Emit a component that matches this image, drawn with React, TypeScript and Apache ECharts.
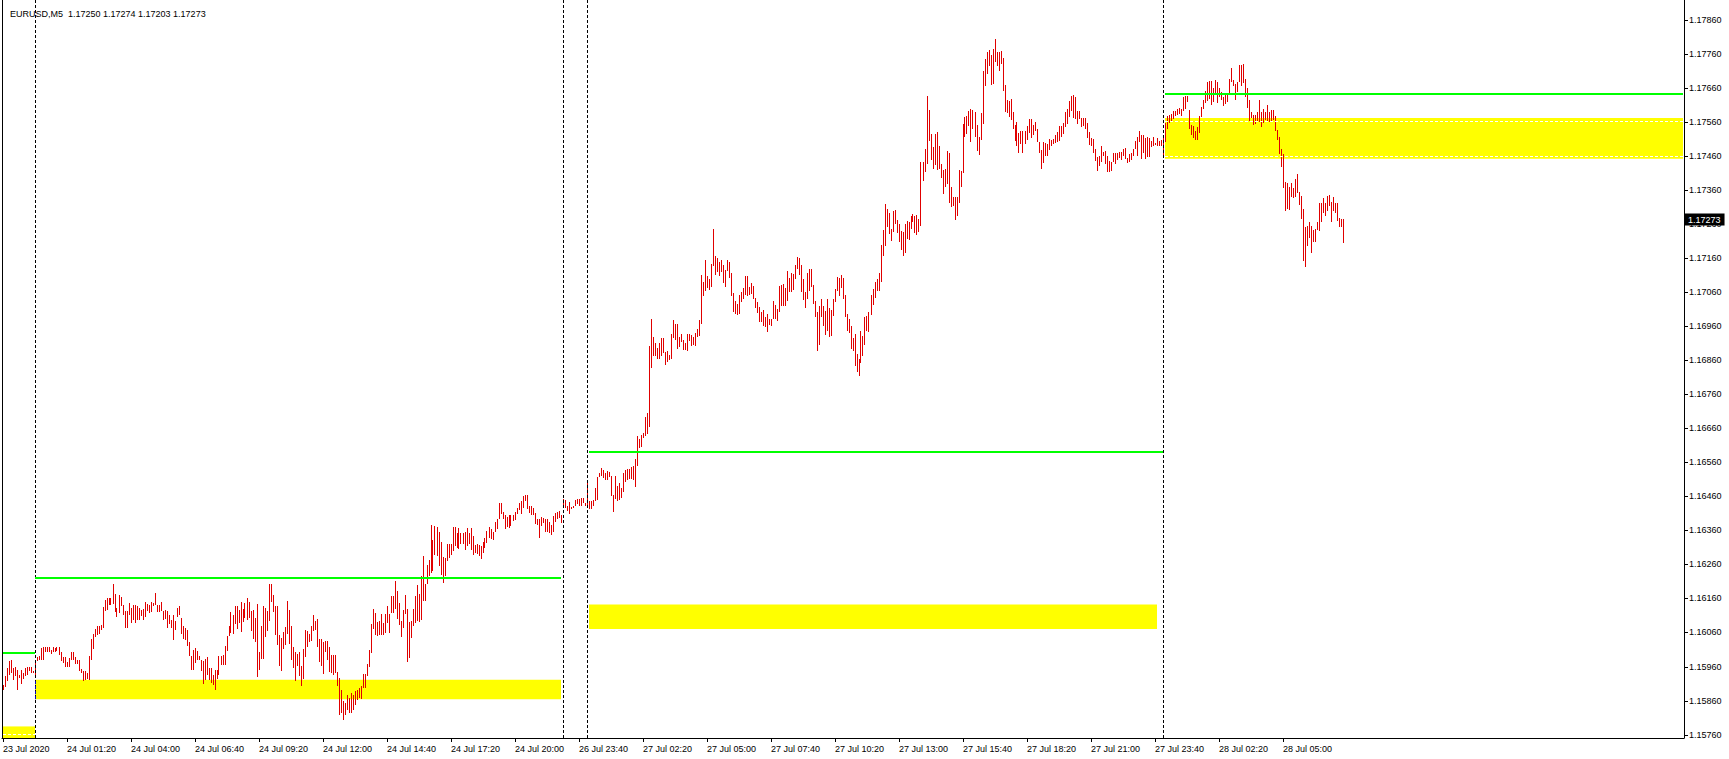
import React, { useEffect, useRef } from "react";
import * as echarts from "echarts";

// ---- header ----
const symbolName = "EURUSD,M5";
const lastBar = [1.1725, 1.17274, 1.17203, 1.17273]; // O H L C

// ---- price axis labels ----
const priceTicks = [
  1.1576, 1.1586, 1.1596, 1.1606, 1.1616, 1.1626, 1.1636, 1.1646, 1.1656, 1.1666, 1.1676,
  1.1686, 1.1696, 1.1706, 1.1716, 1.1726, 1.1736, 1.1746, 1.1756, 1.1766, 1.1776, 1.1786,
];
const firstLabel = "23 Jul 2020";

// ---- M5 bars: highs / lows in points (1e-5) ----
const hi23 = [115906,115933,115955,115977,115980,115955,115958,115951,115936,115951,115941,115957,115958,115960,115960,115948];
const lo23 = [115892,115899,115916,115936,115941,115919,115931,115892,115926,115909,115923,115931,115936,115946,115941,115941];

const hi24 = [
115977,115988,115990,116014,116017,116017,116017,116017,116009,116017,116014,116017,116017,116004,115988,115988,115972,115985,116003,116003,
115987,115978,115978,115954,115948,115948,115940,115990,116042,116056,116071,116080,116078,116081,116134,116156,116161,116161,116161,116203,
116174,116132,116171,116164,116142,116122,116122,116147,116132,116140,116140,116137,116132,116127,116129,116149,116145,116142,116149,116147,
116176,116142,116142,116149,116122,116127,116122,116112,116098,116110,116093,116132,116139,116102,116078,116073,116066,116031,115990,116009,
116014,116007,115990,115980,115975,115982,115987,115955,115955,115936,115949,115951,115992,115992,115995,116021,116051,116078,116120,116112,
116137,116137,116125,116149,116129,116147,116161,116149,116122,116125,116102,116145,116004,116078,116137,116132,116122,116203,116202,116169,
116137,116137,116054,116044,116060,116075,116151,116127,116078,116017,116004,115998,116002,115962,116011,116068,116065,116056,116080,116112,
116093,116100,116041,116042,116031,116036,116036,116017,
115995,115995,115995,115943,115926,115892,115858,115853,115877,115868,115882,115877,115887,115892,115897,115902,115939,115939,115966,116008,
116086,116129,116117,116090,116093,116115,116088,116115,116139,116115,116168,116168,116211,116181,116147,116093,116127,116171,116129,116090,
116093,116129,116166,116198,116174,116227,116286,116201,116257,116272,116377,116333,116374,116370,116355,116325,116282,116279,116321,116321,
116321,116370,116370,116353,116368,116353,116351,116355,116368,116353,116368,116343,116318,116321,116318,116315,116325,116338,116358,116370,
116364,116355,116384,116394,116439,116439,116413,116406,116400,116404,116406,116406,116413,116426,116441,116446,116460,116465,116465,116431,
116431,116426,116411,116394,116392,116400,116397,116394,116392,116384,116377,116402,116411,116413,116416,116406,
];
const lo24 = [
115933,115975,115978,115980,115980,116004,116004,116004,115998,116002,116004,116007,115995,115975,115970,115960,115960,115960,115980,115980,
115968,115968,115946,115941,115916,115919,115923,115921,115978,116012,116047,116052,116056,116068,116073,116122,116127,116142,116142,116144,
116119,116105,116117,116137,116112,116073,116073,116112,116088,116098,116088,116098,116098,116107,116096,116105,116122,116117,116120,116137,
116142,116120,116119,116122,116096,116100,116073,116086,116073,116037,116068,116105,116112,116056,116042,116039,116021,115990,115949,115949,
115970,115980,115978,115946,115909,115919,115936,115921,115911,115906,115892,115923,115936,115965,115965,115965,116007,116051,116058,116056,
116086,116071,116088,116061,116091,116102,116098,116102,116063,116042,116031,115928,115951,115983,115983,116046,116063,116093,116149,116120,
116054,116024,115962,115946,116012,116022,116056,116027,115980,115955,115916,115962,115933,115904,115923,115988,116017,116031,116034,116063,
116066,116017,115972,115962,115939,116004,115980,115943,
115941,115936,115941,115902,115819,115823,115804,115819,115833,115823,115823,115833,115848,115863,115868,115865,115897,115897,115931,115959,
116000,116070,116054,116051,116054,116054,116054,116059,116088,116059,116117,116117,116129,116100,116083,116047,116073,116113,115972,115985,
116044,116080,116088,116093,116090,116098,116152,116152,116201,116227,116235,116240,116289,116286,116255,116230,116206,116225,116269,116279,
116289,116299,116313,116308,116305,116321,116321,116303,116315,116321,116303,116289,116294,116292,116284,116276,116294,116308,116323,116338,
116335,116333,116355,116364,116392,116409,116394,116364,116370,116367,116374,116387,116389,116409,116419,116409,116426,116446,116423,116411,
116406,116404,116380,116377,116338,116374,116382,116355,116355,116353,116345,116355,116384,116392,116397,116382,
];

const hi26 = [116453,116449,116431,116443,116429,116431,116449,116451,116451,116456,116456,116441];
const lo26 = [116426,116426,116416,116409,116423,116425,116433,116436,116431,116431,116439,116431];

const hi27 = [
116502,116446,116446,116449,116485,116517,116529,116544,116537,116529,116534,116531,116519,116465,116521,116490,116500,116485,116529,116537,
116541,116539,116546,116550,116570,116637,116629,116639,116645,116694,116704,116903,116980,116927,116910,116897,116910,
116924,116924,116884,116887,116874,116936,116978,116966,116966,116929,116936,116919,116910,116936,116936,116933,116927,116939,116951,116978,
117110,117090,117155,117106,117098,117142,117245,117165,117159,117147,117155,117139,117125,117155,117149,117116,117057,117034,117024,117051,
117061,117073,117106,117106,117076,117088,117078,117044,117031,117015,117002,117008,116988,116995,116980,116982,117034,117022,117010,117078,
117080,117083,117071,117123,117100,117116,117113,117139,117162,117159,117139,117098,117059,117116,117127,117127,117080,117034,117002,117020,
117041,117020,117005,117041,117012,117008,117041,117069,117103,117100,117110,117100,117051,116995,116980,116961,116924,116936,116878,116863,
116946,116931,116988,116990,117002,117051,117069,117090,117098,117116,117198,117243,117319,117304,117292,117245,117299,117302,117272,117260,
117240,117235,117260,117270,117267,117284,117289,117284,117286,117274,117443,117443,117480,117637,117596,117524,117485,117524,117529,117490,
117436,117419,117421,117475,117468,117368,117338,117338,117338,117419,117416,117554,117573,117576,117593,117598,117596,117590,117551,117515,
117586,117708,117745,117766,117772,117755,117774,117804,117766,117766,
117769,117747,117668,117625,117622,117627,117588,117551,117561,117527,117534,117534,117534,117549,117568,117568,117551,117559,117539,117500,
117478,117502,117498,117495,117510,117508,117510,117520,117531,117547,117549,117557,117588,117598,117622,117635,117639,117632,117593,117593,
117570,117570,117570,117557,117531,117512,117510,117480,117456,117461,117488,117472,117475,117461,117446,117443,117468,117470,117470,117472,
117472,117480,117482,117453,117466,117470,117480,117505,117517,117534,117521,117520,117512,117517,117514,117505,117517,117498,117512,117505,
117508,
];
const lo27 = [
116426,116423,116423,116431,116446,116449,116517,116519,116514,116507,116509,116517,116460,116413,116453,116446,116449,116455,116472,116502,
116509,116511,116511,116509,116488,116550,116603,116606,116632,116637,116642,116664,116838,116871,116871,116863,116863,
116871,116880,116845,116855,116861,116863,116924,116919,116894,116900,116912,116890,116890,116887,116917,116902,116904,116902,116927,116931,
116966,117049,117064,117071,117067,117074,117137,117110,117120,117106,117120,117088,117076,117123,117100,117049,117002,116995,116992,116995,
117031,117041,117051,117049,117051,117054,117041,117012,116998,116973,116973,116961,116956,116943,116963,116961,116982,116982,116975,117000,
117020,117020,117020,117034,117059,117061,117067,117098,117127,117110,117061,117037,117012,117041,117064,117076,117024,116988,116887,116904,
116988,116961,116933,116946,116927,116931,116990,117031,117064,117049,117071,117041,116988,116946,116941,116892,116887,116843,116824,116812,
116853,116873,116904,116946,116943,116992,117022,117044,117064,117064,117090,117167,117194,117250,117230,117211,117235,117260,117233,117208,
117184,117167,117174,117216,117214,117245,117265,117233,117227,117235,117253,117387,117414,117436,117505,117449,117421,117433,117419,117423,
117394,117348,117368,117377,117323,117309,117314,117272,117284,117321,117368,117410,117517,117524,117549,117500,117539,117517,117475,117463,
117508,117554,117666,117701,117725,117668,117671,117735,117723,117710,
117730,117652,117588,117586,117573,117566,117539,117505,117488,117468,117495,117468,117495,117508,117527,117514,117521,117534,117500,117470,
117421,117439,117461,117461,117478,117490,117495,117498,117500,117505,117517,117524,117544,117554,117573,117593,117570,117568,117554,117568,
117544,117547,117539,117512,117492,117490,117468,117446,117417,117431,117441,117459,117436,117414,117414,117417,117441,117436,117449,117453,
117449,117459,117451,117439,117441,117449,117461,117480,117461,117500,117451,117468,117451,117456,117456,117485,117488,117492,117488,117490,
117490,
];

const hi28 = [
117520,117557,117576,117580,117583,117593,117593,117598,117600,117598,117632,117635,117635,117596,117551,117549,117534,117544,117576,117603,
117625,117652,117676,117681,117681,117659,117684,117676,117659,117647,117632,117642,117642,117686,117717,117684,117671,117676,117727,117727,
117730,117686,117659,117625,117588,117580,117580,117590,117625,117590,117598,117590,117610,117588,117596,117596,117576,117537,117517,117480,
117466,117382,117380,117368,117380,117365,117392,117407,117355,117341,117304,117250,117255,117265,117253,117243,117245,117265,117321,117321,
117335,117323,117343,117345,117325,117338,117321,117323,117279,117274,117274,
];
const lo28 = [
117461,117502,117539,117557,117559,117568,117576,117580,117583,117578,117593,117598,117617,117539,117521,117512,117508,117508,117527,117573,
117598,117615,117622,117627,117610,117617,117642,117615,117632,117625,117608,117613,117617,117642,117676,117666,117625,117647,117676,117666,
117674,117632,117600,117563,117570,117551,117554,117561,117561,117544,117557,117566,117561,117561,117561,117566,117534,117508,117466,117426,
117365,117299,117304,117302,117338,117335,117338,117351,117316,117276,117152,117135,117196,117220,117176,117208,117208,117243,117240,117265,
117292,117282,117299,117312,117265,117299,117292,117270,117250,117250,117203,
];

// trading sessions (date, first bar time in minutes)
const sessions = [
  { day: "23 Jul", start: 22 * 60 + 40, hi: hi23, lo: lo23 },
  { day: "24 Jul", start: 0, hi: hi24, lo: lo24 },
  { day: "26 Jul", start: 23 * 60, hi: hi26, lo: lo26 },
  { day: "27 Jul", start: 0, hi: hi27, lo: lo27 },
  { day: "28 Jul", start: 0, hi: hi28, lo: lo28 },
];

// ---- drawn objects: [fromBar, toBar, price] ----
const greenLevels = [
  [0, 16, 1.16001],
  [16, 279, 1.16222],
  [293, 580, 1.16592],
  [581, 840, 1.17642],
];
// [fromBar, toBar, priceLow, priceHigh]
const yellowZones = [
  [0, 16, 1.1575, 1.15784],
  [16, 279, 1.15864, 1.15921],
  [293, 577, 1.1607, 1.16142],
  [581, 840, 1.17452, 1.17571],
];
const whiteDashes = [
  [0, 16, 1.15762],
  [581, 840, 1.17561],
  [581, 840, 1.1746],
];

const FONT = "Liberation Sans, Arial, sans-serif";
const SLOTS = 841;
const Y_MIN = 1.1575;
const Y_MAX = 1.17918;
const pad2 = (n: number) => (n < 10 ? "0" + n : "" + n);

export default function App() {
  const ref = useRef<HTMLDivElement>(null);

  useEffect(() => {
    if (!ref.current) return;
    const chart = echarts.init(ref.current, null, { renderer: "svg" });

    const categories: string[] = [];
    const bars: number[][] = [];
    const sepBars: number[] = [];
    sessions.forEach((s, si) => {
      if (si > 0) sepBars.push(bars.length);
      s.hi.forEach((h, k) => {
        const t = s.start + k * 5;
        categories.push(`${s.day} ${pad2(Math.floor(t / 60))}:${pad2(t % 60)}`);
        bars.push([bars.length, s.lo[k] / 1e5, h / 1e5]);
      });
    });
    const nBars = bars.length;
    const lastSess = sessions[sessions.length - 1];
    let k = lastSess.hi.length;
    while (categories.length < SLOTS) {
      const t = lastSess.start + k * 5;
      categories.push(`${lastSess.day} ${pad2(Math.floor(t / 60))}:${pad2(t % 60)}`);
      k++;
    }
    const cat = (i: number) => categories[i];

    const markLineData: any[] = [];
    sepBars.forEach((b) =>
      markLineData.push({
        xAxis: cat(b),
        lineStyle: { color: "#000", width: 1, type: [3, 2] },
        label: { show: false },
      })
    );
    greenLevels.forEach(([a, b, p]) =>
      markLineData.push([
        { coord: [cat(a), p], lineStyle: { color: "#00ff00", width: 2, type: "solid" }, label: { show: false } },
        { coord: [cat(b), p] },
      ])
    );
    whiteDashes.forEach(([a, b, p]) =>
      markLineData.push([
        { coord: [cat(a), p], lineStyle: { color: "#fff", width: 1, type: [3, 2] }, label: { show: false } },
        { coord: [cat(b), p] },
      ])
    );
    // separator drawn over the yellow zone (xor colour in the terminal)
    markLineData.push([
      { coord: [cat(sepBars[0]), yellowZones[1][2]], lineStyle: { color: "#0000cc", width: 1, type: [3, 2] }, label: { show: false } },
      { coord: [cat(sepBars[0]), yellowZones[1][3]] },
    ]);
    markLineData.push({
      yAxis: lastBar[3],
      lineStyle: { color: "rgba(0,0,0,0)", width: 1, opacity: 1 },
      label: {
        show: true,
        position: "end",
        distance: 1,
        formatter: lastBar[3].toFixed(5),
        backgroundColor: "#000",
        color: "#fff",
        opacity: 1,
        fontSize: 9,
        fontFamily: FONT,
        padding: [2, 4, 1, 3],
      },
    });

    const option: any = {
      animation: false,
      backgroundColor: "#fff",
      title: {
        text: `${symbolName}  ${lastBar.map((v) => v.toFixed(5)).join(" ")}`,
        left: 5,
        top: 4,
        textStyle: { fontSize: 9, fontWeight: "normal", color: "#000", fontFamily: FONT },
      },
      grid: {
        left: 2,
        right: 45,
        top: 0,
        bottom: 21,
        show: false,
      },
      xAxis: {
        type: "category",
        data: categories,
        boundaryGap: true,
        axisLine: { show: true, lineStyle: { color: "#000", width: 1 } },
        axisTick: {
          show: true,
          alignWithLabel: true,
          length: 4,
          interval: (i: number) => i % 32 === 0 && i < nBars,
          lineStyle: { color: "#000" },
        },
        axisLabel: {
          interval: (i: number) => i % 32 === 0 && i < nBars,
          formatter: (v: string, i: number) => (i === 0 ? firstLabel : v),
          align: "left",
          margin: 6,
          fontSize: 9,
          color: "#000",
          fontFamily: FONT,
        },
        splitLine: { show: false },
      },
      yAxis: [
        {
          type: "value",
          position: "right",
          min: Y_MIN,
          max: Y_MAX,
          interval: 0.0001,
          scale: true,
          axisLine: { show: true, lineStyle: { color: "#000", width: 1 } },
          axisTick: { show: false },
          splitLine: { show: false },
          axisLabel: {
            margin: 5,
            fontSize: 9,
            color: "#000",
            fontFamily: FONT,
            formatter: (v: number) => {
              const t = priceTicks.find((p) => Math.abs(p - v) < 5e-7);
              return t === undefined ? "" : t.toFixed(5);
            },
          },
        },
        {
          // left frame of the chart window
          type: "value",
          position: "left",
          min: Y_MIN,
          max: Y_MAX,
          axisLine: { show: true, onZero: false, lineStyle: { color: "#000", width: 1 } },
          axisTick: { show: false },
          axisLabel: { show: false },
          splitLine: { show: false },
        },
      ],
      series: [
        {
          type: "custom",
          name: "bars",
          data: bars,
          encode: { x: 0, y: [1, 2] },
          renderItem: (_p: any, api: any) => {
            const i = api.value(0);
            const top = api.coord([i, api.value(2)]);
            const bot = api.coord([i, api.value(1)]);
            const x = Math.floor(top[0]);
            const y1 = Math.round(top[1]);
            const y2 = Math.max(Math.round(bot[1]), y1 + 1);
            return {
              type: "rect",
              shape: { x, y: y1, width: 1, height: y2 - y1 },
              style: { fill: "#e00000" },
            };
          },
          markArea: {
            silent: true,
            itemStyle: { color: "#ffff00", opacity: 1 },
            label: { show: false },
            data: yellowZones.map(([a, b, lo, hi]) => [
              { coord: [cat(a), hi] },
              { coord: [cat(b), lo] },
            ]),
          },
          markLine: {
            silent: true,
            symbol: "none",
            animation: false,
            precision: 5,
            data: markLineData,
          },
        },
      ],
    };
    chart.setOption(option);

    const axisX = chart.getWidth() - 45;
    const tickMarks = priceTicks.map((p) => {
      const y = Math.round(chart.convertToPixel({ yAxisIndex: 0 }, p) as number) + 0.5;
      return {
        type: "line",
        silent: true,
        shape: { x1: axisX, y1: y, x2: axisX + 4, y2: y },
        style: { stroke: "#000", lineWidth: 1 },
        z: 1,
      };
    });
    chart.setOption({ graphic: tickMarks });

    return () => chart.dispose();
  }, []);

  return (
    <div
      ref={ref}
      style={{ position: "absolute", left: 0, top: 0, width: 1729, height: 759 }}
    />
  );
}
